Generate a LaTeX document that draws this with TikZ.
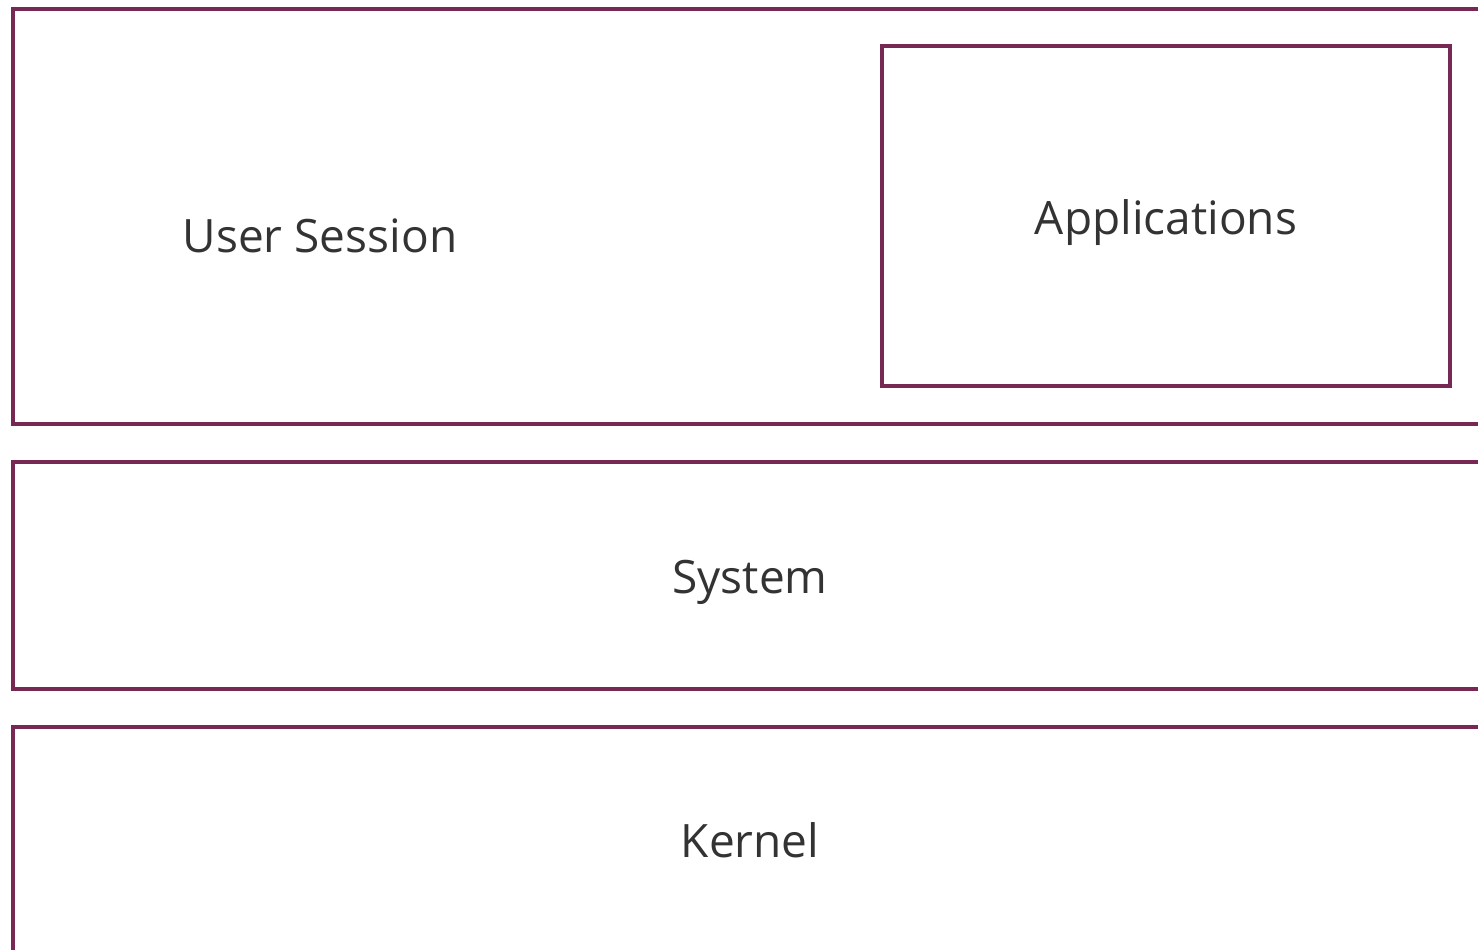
\documentclass[tikz,border=0pt]{standalone}
\usepackage{fontspec}
\setmainfont{Open Sans}
\definecolor{aub}{HTML}{772953}
\definecolor{txt}{HTML}{333333}
\tikzset{
  layer/.style={draw=aub, line width=3.2pt},
  lbl/.style={text=txt, font=\fontsize{46}{54}\selectfont, anchor=base, inner sep=0pt}
}
\begin{document}
\begin{tikzpicture}[x=1pt,y=-1pt]
\useasboundingbox (0,0) rectangle (1478,950);
\clip (0,0) rectangle (1478,950);
\fill[white] (0,0) rectangle (1478,950);
\draw[layer] (13,9) rectangle (1500,424);
\draw[layer] (882,46) rectangle (1450,386);
\draw[layer] (13,462) rectangle (1500,689);
\draw[layer] (13,727) rectangle (1500,980);
\node[lbl] (us) at (320,252) {User Session};
\node[lbl] (ap) at (1166,234) {Applications};
\node[lbl] (sy) at (750,593) {System};
\node[lbl] (ke) at (750,857) {Kernel};
\end{tikzpicture}
\end{document}
